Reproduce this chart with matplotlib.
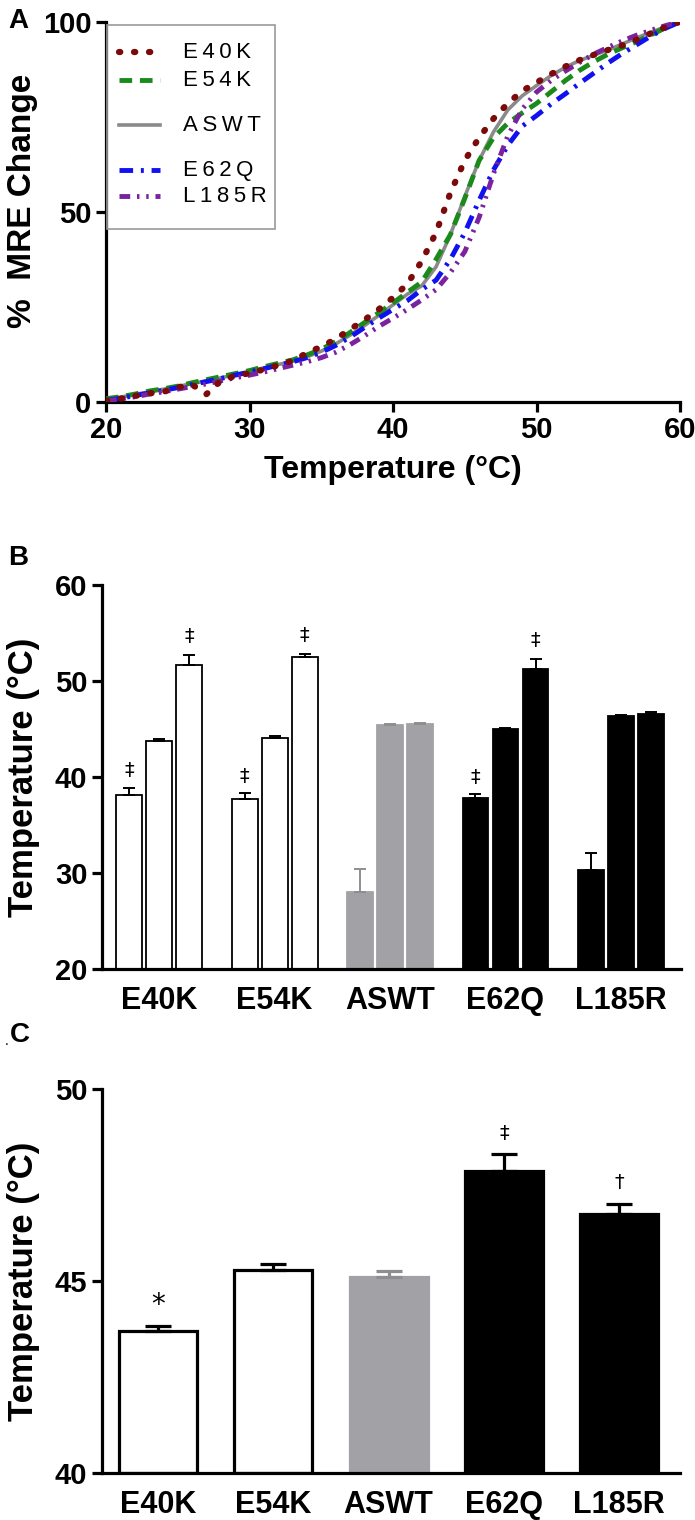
import matplotlib.pyplot as plt
import matplotlib.font_manager as fm
import numpy as np

# ---- data: panel A, % MRE change vs temperature ----
temps = list(range(20, 61))
e40k = [0.3, 0.8, 1.5, 2.2, 2.6, 3.8, 4.5, 2.0, 5.5, 6.8, 7.5, 8.5, 9.6, 10.8, 12.8, 14.5, 16.5, 19.0, 21.5, 24.3,
        27.4, 31.0, 37.0, 44.5, 55.0, 63.5, 69.5, 74.5, 78.5, 81.8, 84.0, 86.2, 88.2, 89.9, 91.3, 92.6, 93.8, 95.3,
        97.0, 98.6, 100]
e54k = [0.8, 1.3, 2.0, 2.8, 3.4, 4.1, 5.0, 5.8, 6.6, 7.4, 8.2, 9.2, 10.1, 11.0, 12.3, 13.8, 15.8, 18.2, 20.8, 23.4,
        26.0, 28.8, 31.5, 37.5, 44.0, 53.5, 63.5, 69.5, 73.3, 76.0, 78.5, 81.5, 84.5, 87.2, 89.5, 91.5, 93.2, 94.8,
        96.6, 98.4, 100]
aswt = [0.5, 1.2, 1.9, 2.6, 3.3, 4.0, 4.8, 5.5, 6.3, 7.1, 8.0, 8.9, 9.8, 10.6, 11.8, 13.3, 15.2, 17.5, 20.0, 22.7,
        25.5, 28.3, 30.5, 35.5, 44.0, 54.0, 63.5, 71.0, 76.8, 80.5, 83.2, 85.8, 88.0, 89.8, 91.2, 92.6, 94.2, 95.8,
        97.3, 98.7, 100]
e62q = [0.3, 0.9, 1.6, 2.3, 3.0, 3.7, 4.5, 5.3, 6.1, 7.0, 7.8, 8.7, 9.6, 10.5, 11.6, 13.0, 14.8, 17.0, 19.5, 22.0,
        24.3, 26.6, 29.5, 32.0, 37.5, 44.5, 53.0, 61.0, 67.5, 72.5, 75.3, 78.3, 81.0, 83.8, 86.5, 89.2, 91.7, 94.0,
        96.3, 98.3, 100]
l185r = [0.2, 0.7, 1.3, 2.0, 2.6, 3.3, 4.0, 4.7, 5.5, 6.3, 7.0, 7.8, 8.7, 9.6, 10.5, 11.6, 13.0, 15.0, 17.3, 19.8,
         22.0, 24.3, 26.8, 29.5, 34.0, 39.5, 48.5, 60.0, 70.0, 77.0, 81.5, 84.5, 87.0, 89.3, 91.5, 93.3, 95.0, 96.5,
         97.8, 99.0, 100]

# ---- data: panel B, three transition temperatures per protein ----
groups = ['E40K', 'E54K', 'ASWT', 'E62Q', 'L185R']
b_t1 = [38.1, 37.7, 28.0, 37.8, 30.3]
b_t1_err = [0.8, 0.6, 2.4, 0.4, 1.8]
b_t2 = [43.8, 44.1, 45.4, 45.0, 46.4]
b_t2_err = [0.15, 0.15, 0.1, 0.1, 0.1]
b_t3 = [51.7, 52.5, 45.5, 51.3, 46.6]
b_t3_err = [1.0, 0.3, 0.1, 1.0, 0.2]
b_t1_sig = ['‡', '‡', '', '‡', '']
b_t3_sig = ['‡', '‡', '', '‡', '']

# ---- data: panel C, Tm ----
c_tm = [43.7, 45.3, 45.1, 47.85, 46.75]
c_err = [0.13, 0.15, 0.15, 0.45, 0.25]
c_sig = ['*', '', '', '‡', '†']

bar_fill = ['white', 'white', '#a2a1a6', 'black', 'black']
bar_edge = ['black', 'black', '#a2a1a6', 'black', 'black']
err_col = ['black', 'black', '#8e8d92', 'black', 'black']

avail = {f.name for f in fm.fontManager.ttflist}
narrow = ['Liberation Sans Narrow', 'Liberation Sans'] if 'Liberation Sans Narrow' in avail else ['Liberation Sans']
plt.rcParams['font.family'] = ['Liberation Sans', 'DejaVu Sans']


def style_axis(ax, tick_size):
    for s in ['top', 'right']:
        ax.spines[s].set_visible(False)
    for s in ['left', 'bottom']:
        ax.spines[s].set_linewidth(2.3)
    ax.tick_params(width=2.3, length=7, direction='out')
    for lab in ax.get_xticklabels() + ax.get_yticklabels():
        lab.set_family(narrow)
        lab.set_weight('bold')
        lab.set_size(tick_size)


fig = plt.figure(figsize=(6.95, 15.2), dpi=100)

# ================= Panel A =================
axA = fig.add_axes([0.1525, 0.7357, 0.826, 0.25])
axA.plot(temps, aswt, color='#8a8a8a', lw=2.6, solid_capstyle='round', zorder=3)
axA.plot(temps, e54k, color='#1a8a1a', lw=3.5, dashes=(2.6, 1.6), zorder=4)
axA.plot(temps, e62q, color='#1010f0', lw=3.5, dashes=(2.8, 1.6, 0.6, 1.6), zorder=4)
axA.plot(temps, l185r, color='#7a22a0', lw=3.5, dashes=(2.2, 1.4, 0.5, 1.4, 0.5, 1.4), zorder=4)
axA.plot(temps, e40k, color='#7c0a0a', lw=4.5, dashes=(0.2, 2.2), dash_capstyle='round', zorder=5)
axA.set_xlim(20, 60)
axA.set_ylim(0, 100)
axA.set_xticks([20, 30, 40, 50, 60])
axA.set_yticks([0, 50, 100])
style_axis(axA, 21)
axA.set_xlabel('Temperature (°C)', family=narrow, weight='bold', size=23, labelpad=8)
axA.set_ylabel('%  MRE Change', weight='bold', size=24)
axA.yaxis.set_label_coords(-0.1185, 0.528)

# legend drawn by hand to keep the uneven spacing of the original
tr = axA.transAxes
axA.add_patch(plt.Rectangle((0.002, 0.455), 0.293, 0.537, transform=tr, fill=False,
                            edgecolor='#9a9a9a', lw=1.2, zorder=6, clip_on=False))
leg = [('E40K', '#7c0a0a', 4.5, (0.2, 2.2), 52),
       ('E54K', '#1a8a1a', 3.5, (2.6, 1.6), 80),
       ('ASWT', '#8a8a8a', 2.6, None, 125),
       ('E62Q', '#1010f0', 3.5, (2.8, 1.6, 0.6, 1.6), 170),
       ('L185R', '#7a22a0', 3.5, (2.2, 1.4, 0.5, 1.4, 0.5, 1.4), 196)]
for name, col, lw, dsh, ypx in leg:
    yy = (401.7 - ypx) / 380
    ln, = axA.plot([0.022, 0.094], [yy, yy], transform=tr, color=col, lw=lw, clip_on=False, zorder=7,
                   dash_capstyle='round' if name == 'E40K' else 'butt')
    if dsh:
        ln.set_dashes(dsh)
    axA.text(0.135, yy, '\u2009'.join(name), transform=tr, va='center', ha='left', size=16, zorder=7)

# ================= Panel B =================
axB = fig.add_axes([0.1468, 0.3625, 0.833, 0.2526])
x = np.arange(len(groups))
off = 0.26
w = 0.224
for k, (vals, errs) in enumerate([(b_t1, b_t1_err), (b_t2, b_t2_err), (b_t3, b_t3_err)]):
    xs = x + (k - 1) * off
    axB.bar(xs, [v - 20 for v in vals], bottom=20, width=w, color=bar_fill, edgecolor=bar_edge, lw=1.3, zorder=2)
    for i in range(len(groups)):
        axB.errorbar(xs[i], vals[i], yerr=[[0], [errs[i]]], fmt='none', ecolor=err_col[i], elinewidth=1.4,
                     capsize=4.3, capthick=1.4, zorder=3)
for i in range(len(groups)):
    if b_t1_sig[i]:
        axB.text(x[i] - off, b_t1[i] + b_t1_err[i] + 1.8, b_t1_sig[i], ha='center', va='center', size=14,
                 family='DejaVu Sans')
    if b_t3_sig[i]:
        axB.text(x[i] + off, b_t3[i] + b_t3_err[i] + 1.9, b_t3_sig[i], ha='center', va='center', size=14,
                 family='DejaVu Sans')
axB.set_xlim(-0.495, 4.52)
axB.set_ylim(20, 60)
axB.set_yticks([20, 30, 40, 50, 60])
axB.set_xticks(x)
axB.set_xticklabels(groups)
style_axis(axB, 21)
axB.tick_params(axis='x', length=0, pad=12, labelsize=22)
axB.set_ylabel('Temperature (°C)', weight='bold', size=25)
axB.yaxis.set_label_coords(-0.107, 0.5)

# ================= Panel C =================
axC = fig.add_axes([0.1468, 0.0307, 0.832, 0.253])
axC.bar(x, [v - 40 for v in c_tm], bottom=40, width=0.677, color=bar_fill, edgecolor=bar_edge, lw=2.3, zorder=2)
for i in range(len(groups)):
    axC.errorbar(x[i], c_tm[i], yerr=[[0], [c_err[i]]], fmt='none', ecolor=err_col[i], elinewidth=2.3,
                 capsize=9.5, capthick=2.3, zorder=3)
    if c_sig[i]:
        axC.text(x[i], c_tm[i] + c_err[i] + 0.55, c_sig[i], ha='center', va='center',
                 size=20 if c_sig[i] == '*' else 14, family='DejaVu Sans')
axC.set_xlim(-0.486, 4.53)
axC.set_ylim(40, 50)
axC.set_yticks([40, 45, 50])
axC.set_xticks(x)
axC.set_xticklabels(groups)
style_axis(axC, 21)
axC.tick_params(axis='x', length=0, pad=12, labelsize=22)
axC.set_ylabel('Temperature (°C)', weight='bold', size=25)
axC.yaxis.set_label_coords(-0.107, 0.5)

# panel letters
fig.text(0.026, 0.986, 'A', weight='bold', size=20, va='center', ha='center')
fig.text(0.026, 0.633, 'B', weight='bold', size=20, va='center', ha='center')
fig.text(0.028, 0.319, 'C', weight='bold', size=20, va='center', ha='center')
fig.text(0.010, 0.315, '.', size=10, va='center', ha='center')

fig.savefig('out.png', dpi=100)
